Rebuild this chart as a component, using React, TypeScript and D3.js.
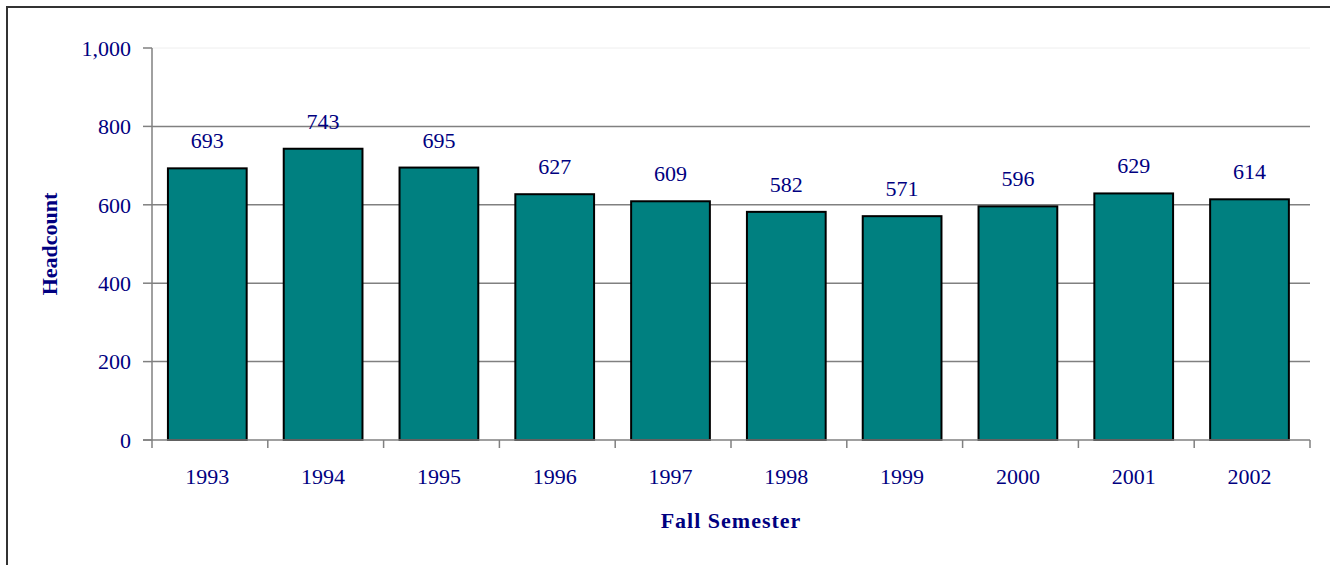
import React from 'react';
import * as d3 from 'd3';

const width = 1330;
const height = 565;
const margin = {top: 48, right: 20, bottom: 125, left: 152};
const teal = '#008080';
const navy = '#000080';
const font = 'Times New Roman, Liberation Serif, serif';
const fs = 22;

const years = ['1993', '1994', '1995', '1996', '1997', '1998', '1999', '2000', '2001', '2002'];
const headcount = [693, 743, 695, 627, 609, 582, 571, 596, 629, 614];
const yTicks = [0, 200, 400, 600, 800, 1000];

export default function App() {
    const x0 = margin.left;
    const x1 = width - margin.right;
    const x = d3.scaleBand<string>()
        .domain(years)
        .range([x0, x1])
        .paddingInner(0.32)
        .paddingOuter(0.16)
        .align(0.43);
    const y = d3.scaleLinear().domain([0, 1000]).range([440, margin.top]);
    const fmt = d3.format(',');
    const step = (x1 - x0) / years.length;

    return (
        <svg width={width} height={height} style={{position: 'absolute', left: 0, top: 0}}>
            <rect x={7} y={7} width={1340} height={580} fill='white' stroke='#333' strokeWidth={2}/>
            {/* gridlines */}
            {yTicks.filter(t => t > 0).map(t => (
                <line key={t} x1={x0} x2={x1} y1={y(t)} y2={y(t)}
                      stroke={t === 1000 ? '#eeeeee' : '#808080'} strokeWidth={t === 1000 ? 1 : 1.5}/>
            ))}
            {/* y axis */}
            <line x1={x0} x2={x0} y1={y(1000)} y2={y(0)} stroke='#808080' strokeWidth={1.5}/>
            {yTicks.map(t => (
                <g key={t}>
                    <line x1={x0 - 9} x2={x0} y1={y(t)} y2={y(t)} stroke='#808080' strokeWidth={1.5}/>
                    <text x={x0 - 21} y={y(t)} dy='0.35em' textAnchor='end' fontFamily={font}
                          fontSize={fs} fill={navy}>{fmt(t)}</text>
                </g>
            ))}
            {/* bars */}
            {years.map((yr, i) => (
                <g key={yr}>
                    <rect x={x(yr)} y={y(headcount[i])} width={x.bandwidth()}
                          height={y(0) - y(headcount[i])} fill={teal} stroke='#000' strokeWidth={2}/>
                    <text x={(x(yr) as number) + x.bandwidth() / 2} y={y(headcount[i]) - 20}
                          textAnchor='middle' fontFamily={font} fontSize={fs} fill={navy}>{headcount[i]}</text>
                </g>
            ))}
            {/* x axis */}
            <line x1={x0 - 9} x2={x1} y1={y(0)} y2={y(0)} stroke='#808080' strokeWidth={1.5}/>
            {d3.range(years.length + 1).map(i => (
                <line key={i} x1={x0 + i * step} x2={x0 + i * step} y1={y(0)} y2={y(0) + 8}
                      stroke='#808080' strokeWidth={1.5}/>
            ))}
            {years.map(yr => (
                <text key={yr} x={(x(yr) as number) + x.bandwidth() / 2} y={484} textAnchor='middle'
                      fontFamily={font} fontSize={fs} fill={navy}>{yr}</text>
            ))}
            <text x={(x0 + x1) / 2} y={528} textAnchor='middle' fontFamily={font} fontSize={fs}
                  fontWeight='bold' fill={navy} letterSpacing={1}>Fall Semester</text>
            <text transform={`translate(57, ${(y(0) + y(1000)) / 2}) rotate(-90)`} textAnchor='middle'
                  fontFamily={font} fontSize={fs} fontWeight='bold' fill={navy}>Headcount</text>
        </svg>
    );
}
